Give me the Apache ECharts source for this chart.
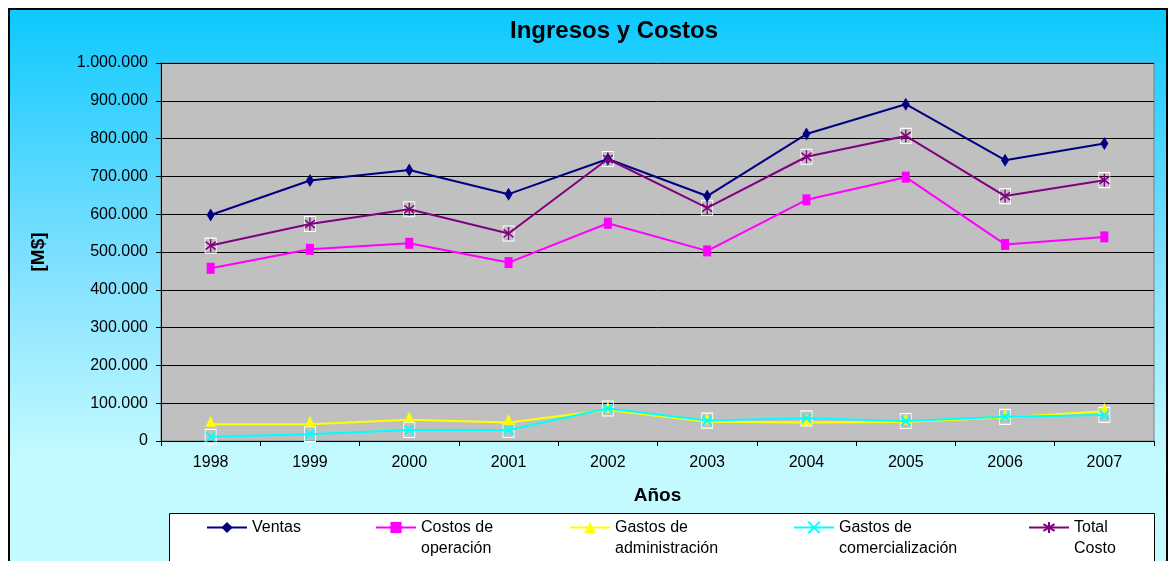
<!DOCTYPE html>
<html>
<head>
<meta charset="utf-8">
<script src="https://cdn.jsdelivr.net/npm/echarts@6/dist/echarts.min.js"></script>
<style>
  html, body { margin: 0; padding: 0; background: #fff; }
  #chart { width: 1172px; height: 561px; }
</style>
</head>
<body>
<div id="chart"></div>
<script>
const years = ["1998", "1999", "2000", "2001", "2002", "2003", "2004", "2005", "2006", "2007"];
const ventas = [598000, 689000, 717000, 653000, 746000, 648000, 812000, 891000, 743000, 787000];
const costosOperacion = [457000, 507000, 523000, 472000, 576000, 503000, 638000, 698000, 520000, 540000];
const gastosAdmin = [44000, 44000, 56000, 49000, 82000, 51000, 49000, 50000, 62000, 79000];
const gastosComerc = [11000, 18000, 29000, 29000, 86000, 54000, 60000, 53000, 64000, 69000];
const totalCosto = [517000, 574000, 613000, 549000, 746000, 617000, 752000, 807000, 648000, 690000];

const yTicks = { min: 0, max: 1000000, interval: 100000 };

const font = "Liberation Sans, Arial, sans-serif";
const asterisk = "path://M5,0L5,10M0.5,2L9.5,8M9.5,2L0.5,8";
const cross = "path://M0,0L10,10M10,0L0,10";

function fmtMiles(v) {
  return String(v).replace(/\B(?=(\d{3})+(?!\d))/g, ".");
}

let myChart = echarts.init(document.getElementById("chart"), null, { renderer: "canvas" });

// white outlined boxes behind some of the markers
function boxSeries(data) {
  return {
    type: "line",
    data: data,
    symbol: "rect",
    symbolSize: [11, 15],
    lineStyle: { width: 0, opacity: 0 },
    itemStyle: { color: "rgba(0,0,0,0)", borderColor: "#fff", borderWidth: 1 },
    silent: true,
    z: 1,
    emphasis: { disabled: true },
  };
}

// two-line names get an empty first line so the icon sits next to line one
function legendItem(name, left, text, twoLines) {
  return {
    data: [name],
    left: left,
    top: twoLines ? 496 : 517,
    padding: 0,
    itemWidth: 40,
    itemHeight: 14,
    z: 5,
    formatter: () => (twoLines ? " \n" + text : text),
    textStyle: {
      fontFamily: font,
      fontSize: 16,
      color: "#000",
      lineHeight: 21,
    },
  };
}

let option = {
  animation: false,
  graphic: [
    {
      type: "rect",
      z: -10,
      silent: true,
      shape: { x: 9, y: 9, width: 1158, height: 560 },
      style: {
        fill: new echarts.graphic.LinearGradient(0, 0, 0, 1, [
          { offset: 0, color: "#0cc9fe" },
          { offset: 0.45, color: "#7fe0ff" },
          { offset: 0.8, color: "#c3faff" },
          { offset: 1, color: "#c4fbff" },
        ]),
        stroke: "#000",
        lineWidth: 2,
      },
    },
    {
      type: "rect",
      z: 1,
      silent: true,
      shape: { x: 169.5, y: 513.5, width: 985, height: 60 },
      style: { fill: "#fff", stroke: "#000", lineWidth: 1 },
    },
  ],
  title: {
    text: "Ingresos y Costos",
    left: 609,
    top: 14,
    textAlign: "center",
    textStyle: { fontFamily: font, fontSize: 24, fontWeight: "bold", color: "#000" },
  },
  legend: [
    legendItem("Ventas", 206, "Ventas", false),
    legendItem("Costos de operación", 375, "Costos de\noperación", true),
    legendItem("Gastos de administración", 569, "Gastos de\nadministración", true),
    legendItem("Gastos de comercialización", 793, "Gastos de\ncomercialización", true),
    legendItem("Total Costo", 1028, "Total\nCosto", true),
  ],
  grid: {
    left: 161,
    top: 63,
    width: 993,
    height: 378,
    show: true,
    backgroundColor: "#c0c0c0",
    borderColor: "#808080",
    borderWidth: 1,
  },
  xAxis: {
    type: "category",
    data: years,
    boundaryGap: true,
    name: "Años",
    nameLocation: "middle",
    nameGap: 45,
    nameTextStyle: { fontFamily: font, fontSize: 19, fontWeight: "bold", color: "#000" },
    axisLine: { lineStyle: { color: "#000", width: 1 } },
    axisTick: { show: true, length: 5, lineStyle: { color: "#000" } },
    axisLabel: { fontFamily: font, fontSize: 16, color: "#000", margin: 14 },
    splitLine: { show: false },
  },
  yAxis: {
    type: "value",
    min: yTicks.min,
    max: yTicks.max,
    interval: yTicks.interval,
    name: "[M$]",
    nameLocation: "middle",
    nameGap: 113,
    nameTextStyle: { fontFamily: font, fontSize: 19, fontWeight: "bold", color: "#000" },
    axisLine: { show: true, lineStyle: { color: "#000", width: 1 } },
    axisTick: { show: true, length: 5, lineStyle: { color: "#000" } },
    axisLabel: { fontFamily: font, fontSize: 16, color: "#000", margin: 13, formatter: fmtMiles },
    splitLine: { show: true, lineStyle: { color: "#000", width: 1 } },
  },
  series: [
    boxSeries(gastosComerc),
    boxSeries(totalCosto),
    {
      name: "Ventas",
      type: "line",
      data: ventas,
      color: "#000080",
      symbol: "diamond",
      symbolSize: [8, 13],
      lineStyle: { width: 2, color: "#000080" },
      z: 3,
    },
    {
      name: "Costos de operación",
      type: "line",
      data: costosOperacion,
      color: "#ff00ff",
      symbol: "rect",
      symbolSize: [8, 11],
      lineStyle: { width: 2, color: "#ff00ff" },
      z: 3,
    },
    {
      name: "Gastos de administración",
      type: "line",
      data: gastosAdmin,
      color: "#ffff00",
      symbol: "triangle",
      symbolSize: [10, 11],
      symbolOffset: [0, -3],
      lineStyle: { width: 2, color: "#ffff00" },
      z: 3,
    },
    {
      name: "Gastos de comercialización",
      type: "line",
      data: gastosComerc,
      color: "#00ffff",
      symbol: cross,
      symbolSize: 9,
      itemStyle: { color: "rgba(0,0,0,0)", borderColor: "#00ffff", borderWidth: 2 },
      lineStyle: { width: 2, color: "#00ffff" },
      z: 4,
    },
    {
      name: "Total Costo",
      type: "line",
      data: totalCosto,
      color: "#800080",
      symbol: asterisk,
      symbolSize: [10, 13],
      itemStyle: { color: "rgba(0,0,0,0)", borderColor: "#800080", borderWidth: 1.5 },
      lineStyle: { width: 2, color: "#800080" },
      z: 4,
    },
  ],
};

myChart.setOption(option);
</script>
</body>
</html>
